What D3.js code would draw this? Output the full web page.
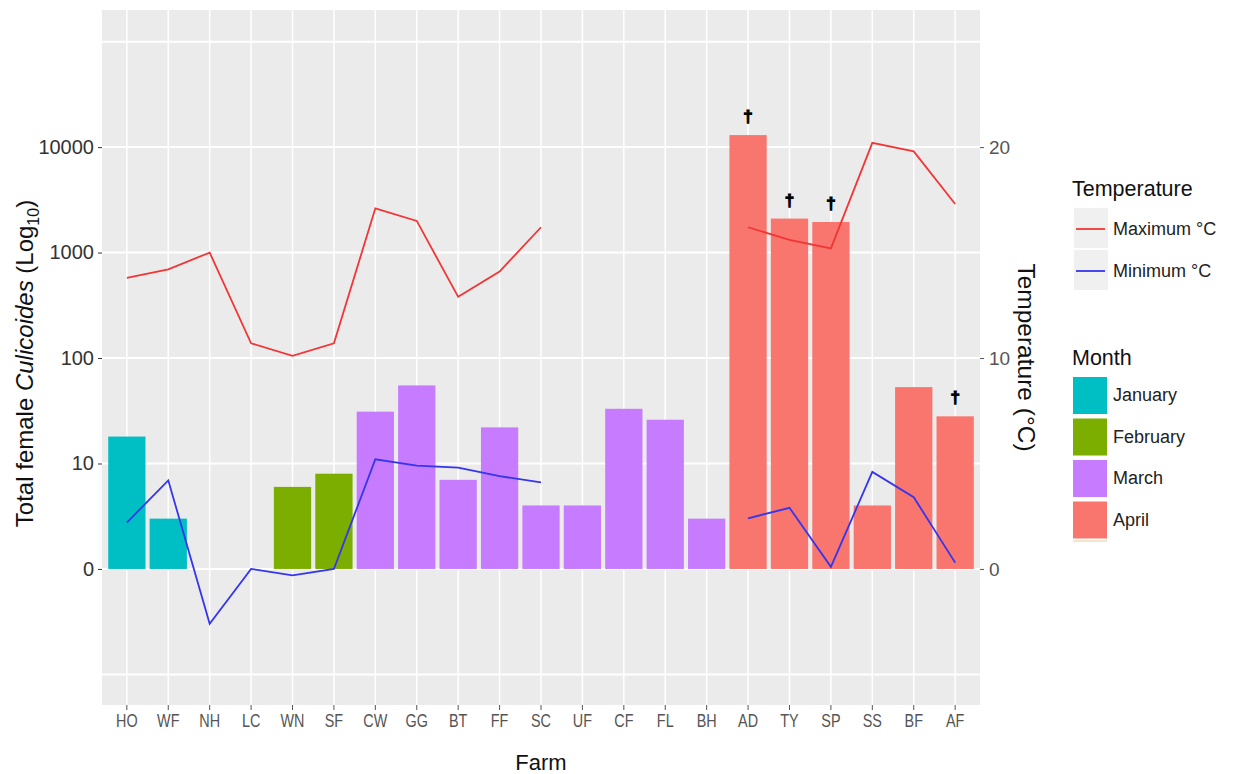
<!DOCTYPE html>
<html>
<head>
<meta charset="utf-8">
<script src="https://d3js.org/d3.v7.min.js"></script>
<style>
  html, body { margin: 0; padding: 0; background: #ffffff; }
  svg { display: block; }
  text { font-family: "Liberation Sans", Arial, sans-serif; }
</style>
</head>
<body>
<svg id="chart" width="1235" height="774"></svg>
<script>
// Farms in plotting order
const farms = ["HO","WF","NH","LC","WN","SF","CW","GG","BT","FF","SC","UF","CF","FL","BH","AD","TY","SP","SS","BF","AF"];
// Sampling month for each farm
const months = ["January","January","January","January","February","February","March","March","March","March","March","March","March","March","March","April","April","April","April","April","April"];
// Total female Culicoides caught (null = none)
const counts = [18,3,null,null,6,8,31,55,7,22,4,4,33,26,3,13000,2100,1950,4,53,28];
// Daily maximum / minimum temperature (°C); null = not recorded
const tempMax = [13.8,14.2,15.0,10.7,10.1,10.7,17.1,16.5,12.9,14.1,16.2,null,null,null,null,16.2,15.6,15.2,20.2,19.8,17.3];
const tempMin = [2.2,4.2,-2.6,0,-0.3,0,5.2,4.9,4.8,4.4,4.1,null,null,null,null,2.4,2.9,0.1,4.6,3.4,0.3];
// Farms flagged with a dagger
const flagged = ["AD","TY","SP","AF"];
// Legend entries
const monthNames = ["January","February","March","April"];
const monthColors = ["#00BFC4","#7CAE00","#C77CFF","#F8766D"];
const tempSeries = ["Maximum °C","Minimum °C"];
const tempColors = ["#F23535","#3535EE"];
// Axis tick values
const countTicks = [1,10,100,1000,10000];
const countGrid = [0.1,1,10,100,1000,10000,100000];
const tempTicks = [0,10,20];

const svg = d3.select("#chart");
const panel = {x0: 102, x1: 980, y0: 10, y1: 705};

const x = d3.scaleBand().domain(farms).range([panel.x0, panel.x1])
  .paddingInner(0.1).paddingOuter(0.15);
const cx = f => x(f) + x.bandwidth() / 2;

// Counts on a log10 axis; temperature on a secondary axis (5 °C per decade)
const yLo = -1.29, yHi = 5.3;
const y = d3.scaleLog().domain([10 ** yLo, 10 ** yHi]).range([panel.y1, panel.y0]);
const yT = d3.scaleLinear().domain([yLo * 5, yHi * 5]).range([panel.y1, panel.y0]);
const color = d3.scaleOrdinal().domain(monthNames).range(monthColors);

// Panel background
svg.append("rect")
  .attr("x", panel.x0).attr("y", panel.y0)
  .attr("width", panel.x1 - panel.x0).attr("height", panel.y1 - panel.y0)
  .attr("fill", "#EBEBEB");

// Gridlines
svg.append("g").selectAll("line").data(countGrid).join("line")
  .attr("x1", panel.x0).attr("x2", panel.x1)
  .attr("y1", d => y(d)).attr("y2", d => y(d))
  .attr("stroke", "#ffffff").attr("stroke-width", 2);
svg.append("g").selectAll("line").data(farms).join("line")
  .attr("x1", d => cx(d)).attr("x2", d => cx(d))
  .attr("y1", panel.y0).attr("y2", panel.y1)
  .attr("stroke", "#ffffff").attr("stroke-width", 1.5);

// Bars
const rows = farms.map((f, i) => ({farm: f, month: months[i], count: counts[i], tmax: tempMax[i], tmin: tempMin[i]}));
svg.append("g").selectAll("rect").data(rows.filter(d => d.count != null)).join("rect")
  .attr("x", d => x(d.farm)).attr("width", x.bandwidth())
  .attr("y", d => y(d.count)).attr("height", d => y(1) - y(d.count))
  .attr("fill", d => color(d.month));

// Temperature lines
const lineT = key => d3.line()
  .defined(d => d[key] != null)
  .x(d => cx(d.farm)).y(d => yT(d[key]));
svg.append("path").datum(rows).attr("d", lineT("tmax"))
  .attr("fill", "none").attr("stroke", tempColors[0]).attr("stroke-width", 1.8);
svg.append("path").datum(rows).attr("d", lineT("tmin"))
  .attr("fill", "none").attr("stroke", tempColors[1]).attr("stroke-width", 1.8);

// Daggers above flagged bars
svg.append("g").selectAll("text").data(rows.filter(d => flagged.includes(d.farm))).join("text")
  .attr("x", d => cx(d.farm)).attr("y", d => y(d.count) - 13)
  .attr("text-anchor", "middle").attr("font-weight", "bold")
  .attr("font-size", 17).attr("fill", "#000")
  .attr("stroke", "#000").attr("stroke-width", 1.1)
  .text("†");

// Left axis
const axL = svg.append("g").attr("transform", `translate(${panel.x0},0)`)
  .call(d3.axisLeft(y).tickValues(countTicks).tickSize(4).tickPadding(4)
    .tickFormat(d => d === 1 ? "0" : d3.format("d")(d)));
axL.select(".domain").remove();
axL.selectAll("line").attr("stroke", "#333333");
axL.selectAll("text").attr("font-size", 20).attr("fill", "#333333")
  .attr("font-family", "'Liberation Sans', Arial, sans-serif");

// Right axis
const axR = svg.append("g").attr("transform", `translate(${panel.x1},0)`)
  .call(d3.axisRight(yT).tickValues(tempTicks).tickSize(4).tickPadding(5));
axR.select(".domain").remove();
axR.selectAll("line").attr("stroke", "#555555");
axR.selectAll("text").attr("font-size", 19).attr("fill", "#555555")
  .attr("font-family", "'Liberation Sans', Arial, sans-serif");

// Bottom axis
const axB = svg.append("g").attr("transform", `translate(0,${panel.y1})`)
  .call(d3.axisBottom(x).tickSize(5).tickPadding(4));
axB.select(".domain").remove();
axB.selectAll("line").attr("stroke", "#555555");
axB.selectAll("text").attr("font-size", 18).attr("fill", "#555555")
  .attr("font-family", "'Liberation Sans', Arial, sans-serif")
  .attr("transform", "scale(0.8,1)");

// Axis titles
const midY = (panel.y0 + panel.y1) / 2;
const tl = svg.append("text")
  .attr("transform", `translate(33,${midY + 6}) rotate(-90)`)
  .attr("text-anchor", "middle").attr("font-size", 24).attr("fill", "#111");
tl.append("tspan").text("Total female ");
tl.append("tspan").attr("font-style", "italic").text("Culicoides");
tl.append("tspan").text(" (Log");
tl.append("tspan").attr("font-size", 16).attr("dy", 6).text("10");
tl.append("tspan").attr("dy", -6).text(")");

svg.append("text")
  .attr("transform", `translate(1018,${midY}) rotate(90)`)
  .attr("text-anchor", "middle").attr("font-size", 24.5).attr("fill", "#111")
  .text("Temperature (°C)");

svg.append("text")
  .attr("x", (panel.x0 + panel.x1) / 2).attr("y", 770)
  .attr("text-anchor", "middle").attr("font-size", 22).attr("fill", "#111")
  .text("Farm");

// Legend: temperature lines
const lg = svg.append("g");
lg.append("text").attr("x", 1072).attr("y", 196).attr("font-size", 21.5).attr("fill", "#111").text("Temperature");
tempSeries.forEach((s, i) => {
  const ky = 208 + i * 42;
  lg.append("rect").attr("x", 1074).attr("y", ky).attr("width", 34).attr("height", 40).attr("fill", "#F0F0F0");
  lg.append("line").attr("x1", 1076).attr("x2", 1105).attr("y1", ky + 21).attr("y2", ky + 21)
    .attr("stroke", tempColors[i]).attr("stroke-width", 1.8);
  lg.append("text").attr("x", 1113).attr("y", ky + 27).attr("font-size", 18).attr("fill", "#222").text(s);
});

// Legend: months
lg.append("text").attr("x", 1072).attr("y", 365).attr("font-size", 21.5).attr("fill", "#111").text("Month");
monthNames.forEach((m, i) => {
  const ky = 377 + i * 41.5;
  lg.append("rect").attr("x", 1073).attr("y", ky).attr("width", 34).attr("height", 37).attr("fill", color(m));
  lg.append("text").attr("x", 1113).attr("y", ky + 24).attr("font-size", 18).attr("fill", "#222").text(m);
});
lg.append("rect").attr("x", 1073).attr("y", 540).attr("width", 34).attr("height", 2).attr("fill", "#EFE6CF");
</script>
</body>
</html>
